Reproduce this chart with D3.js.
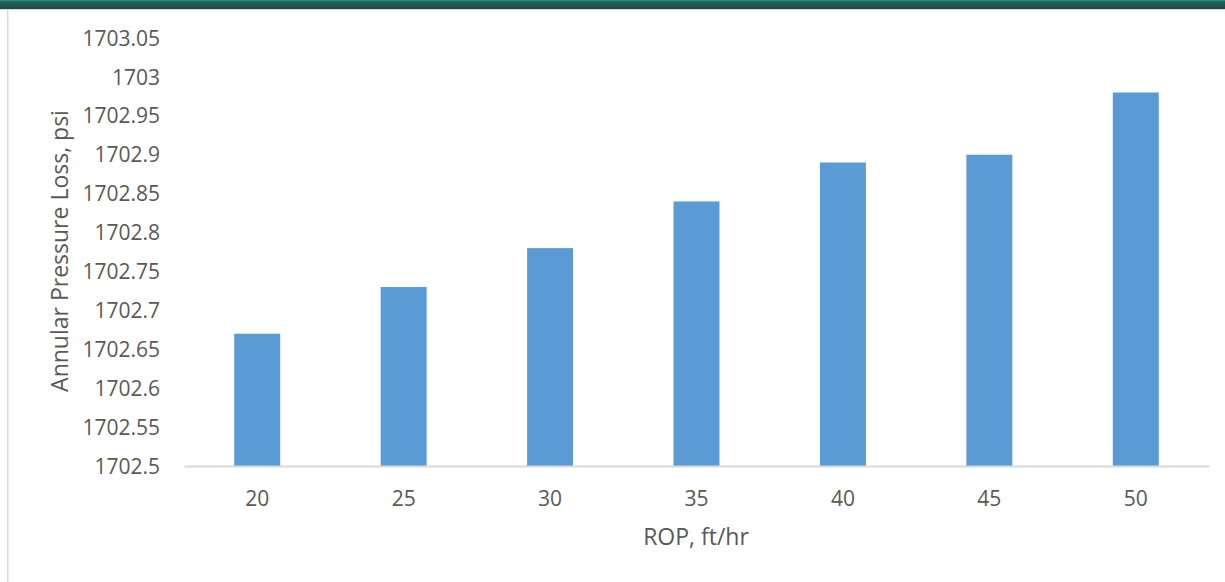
<!DOCTYPE html>
<html>
<head>
<meta charset="utf-8">
<script src="https://cdn.jsdelivr.net/npm/d3@7"></script>
<style>
  html, body { margin: 0; padding: 0; background: #fff; }
  svg { display: block; }
  text { font-family: "Open Sans", "Noto Sans", sans-serif; fill: #595959; }
</style>
</head>
<body>
<svg id="chart" width="1225" height="582"></svg>
<script>
// ROP (ft/hr) against annular pressure loss (psi)
const rop = ["20", "25", "30", "35", "40", "45", "50"];
const pressureLoss = [1702.67, 1702.73, 1702.78, 1702.84, 1702.89, 1702.90, 1702.98];
const yTicks = [1702.5, 1702.55, 1702.6, 1702.65, 1702.7, 1702.75, 1702.8, 1702.85, 1702.9, 1702.95, 1703, 1703.05];

const svg = d3.select("#chart");
const W = 1225, H = 582;
const plot = { left: 184, right: 1209, top: 38, bottom: 466 };

// header band across the top
const grad = svg.append("defs").append("linearGradient")
  .attr("id", "hdr").attr("x1", 0).attr("y1", 0).attr("x2", 0).attr("y2", 1);
grad.append("stop").attr("offset", "0%").attr("stop-color", "#2a9c8c");
grad.append("stop").attr("offset", "20%").attr("stop-color", "#22615a");
grad.append("stop").attr("offset", "100%").attr("stop-color", "#1b4644");
svg.append("rect").attr("x", 0).attr("y", 0).attr("width", W).attr("height", 9).attr("fill", "url(#hdr)");
svg.append("rect").attr("x", 0).attr("y", 9).attr("width", W).attr("height", 1).attr("fill", "#d7dcdc");

// left frame line
svg.append("rect").attr("x", 7).attr("y", 10).attr("width", 1.5).attr("height", H - 10).attr("fill", "#d9d9d9");

const x = d3.scaleBand().domain(rop).range([plot.left, plot.right]).paddingInner(0.686).paddingOuter(0.343);
const y = d3.scaleLinear().domain([1702.5, 1703.05]).range([plot.bottom, plot.top]);

// bars
svg.append("g").selectAll("rect").data(rop).join("rect")
  .attr("x", d => x(d))
  .attr("width", x.bandwidth())
  .attr("y", (d, i) => y(pressureLoss[i]))
  .attr("height", (d, i) => y(1702.5) - y(pressureLoss[i]))
  .attr("fill", "#5b9bd5");

// y axis labels
const yAxis = d3.axisLeft(y).tickValues(yTicks).tickFormat(d => String(+d.toFixed(2))).tickSize(0).tickPadding(0);
const gy = svg.append("g").attr("transform", `translate(160,0)`).call(yAxis);
gy.select(".domain").remove();
gy.selectAll("text").style("font-size", "21px").attr("fill", "#595959").attr("dy", "0.34em");

// x axis
const xAxis = d3.axisBottom(x).tickSize(0).tickPadding(0);
const gx = svg.append("g").attr("transform", `translate(0,${plot.bottom})`).call(xAxis);
gx.select(".domain").attr("stroke", "#d9d9d9").attr("stroke-width", 2);
gx.selectAll("text").style("font-size", "21px").attr("fill", "#595959").attr("dy", "0").attr("y", 40);

// axis titles
svg.append("text").attr("x", 696).attr("y", 545).attr("text-anchor", "middle")
  .style("font-size", "23px").text("ROP, ft/hr");
svg.append("text").attr("transform", "translate(68,251) rotate(-90)").attr("text-anchor", "middle")
  .style("font-size", "23px").text("Annular Pressure Loss, psi");
</script>
</body>
</html>
